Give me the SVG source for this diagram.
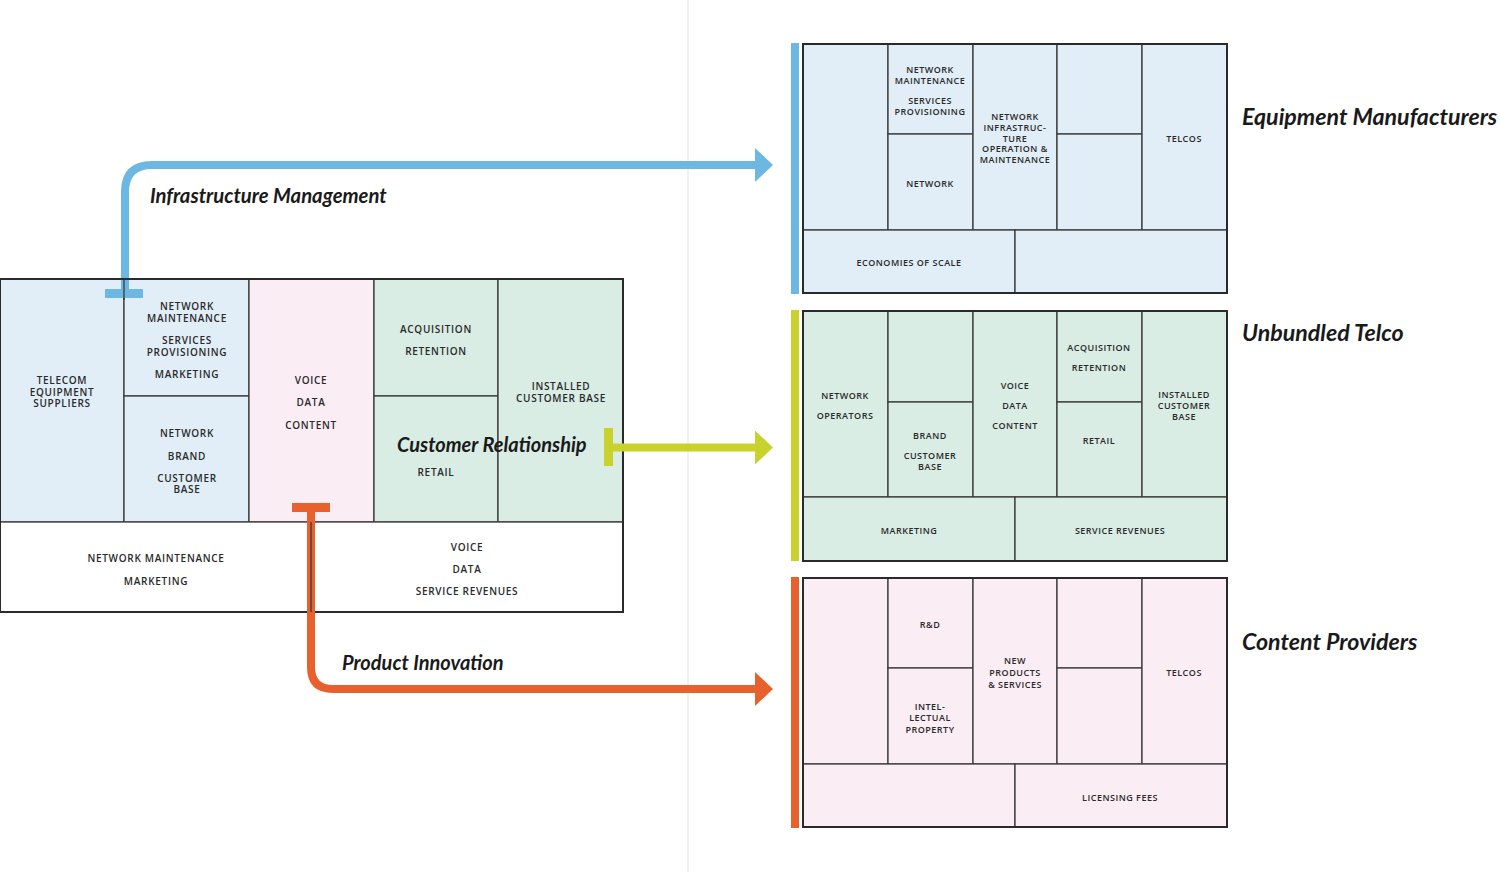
<svg xmlns="http://www.w3.org/2000/svg" width="1500" height="872" viewBox="0 0 1500 872">
<defs>
<style>
.bg{fill:#ffffff}
.blue{fill:#e1eef7}
.green{fill:#d9ede5}
.pink{fill:#fbedf4}
.white{fill:#ffffff}
.cell{stroke:#3a3a3a;stroke-width:1.3}
.frame{fill:none;stroke:#2a2a2a;stroke-width:2}
.t{font-family:"Open Sans","Liberation Sans",sans-serif;font-size:10px;font-weight:600;letter-spacing:0.7px;fill:#2a2a2a;text-anchor:middle}
.s{font-family:"Open Sans","Liberation Sans",sans-serif;font-size:9px;font-weight:600;letter-spacing:0.5px;fill:#2a2a2a;text-anchor:middle}
.h{font-family:Lato,"Liberation Sans",sans-serif;font-weight:700;font-style:italic;fill:#1a1a1a}
.cb{stroke:#6cb8e3}
.cg{stroke:#c9d22d}
.co{stroke:#e8612d}
.conn{fill:none;stroke-width:8}
</style>
<marker id="ab" markerUnits="userSpaceOnUse" markerWidth="20" markerHeight="36" refX="2" refY="17" orient="auto"><path d="M0,0 L18,17 L0,34 z" fill="#6cb8e3"/></marker>
<marker id="ag" markerUnits="userSpaceOnUse" markerWidth="20" markerHeight="36" refX="2" refY="17" orient="auto"><path d="M0,0 L18,17 L0,34 z" fill="#c9d22d"/></marker>
<marker id="ao" markerUnits="userSpaceOnUse" markerWidth="20" markerHeight="36" refX="2" refY="17" orient="auto"><path d="M0,0 L18,17 L0,34 z" fill="#e8612d"/></marker>
</defs>
<rect class="bg" x="0" y="0" width="1500" height="872"/>
<line x1="688" y1="0" x2="688" y2="872" stroke="#f1f1f1" stroke-width="2"/>

<g id="left-canvas">
  <rect class="blue cell" x="0" y="279" width="124" height="243"/>
  <rect class="blue cell" x="124" y="279" width="125" height="117"/>
  <rect class="blue cell" x="124" y="396" width="125" height="126"/>
  <rect class="pink cell" x="249" y="279" width="125" height="243"/>
  <rect class="green cell" x="374" y="279" width="124" height="117"/>
  <rect class="green cell" x="374" y="396" width="124" height="126"/>
  <rect class="green cell" x="498" y="279" width="125" height="243"/>
  <rect class="white cell" x="0" y="522" width="311" height="90"/>
  <rect class="white cell" x="311" y="522" width="312" height="90"/>
  <rect class="frame" x="0" y="279" width="623" height="333"/>
  <text class="t" x="62" y="384">TELECOM</text>
  <text class="t" x="62" y="396">EQUIPMENT</text>
  <text class="t" x="62" y="407">SUPPLIERS</text>
  <text class="t" x="187" y="310">NETWORK</text>
  <text class="t" x="187" y="322">MAINTENANCE</text>
  <text class="t" x="187" y="344">SERVICES</text>
  <text class="t" x="187" y="356">PROVISIONING</text>
  <text class="t" x="187" y="378">MARKETING</text>
  <text class="t" x="187" y="437">NETWORK</text>
  <text class="t" x="187" y="460">BRAND</text>
  <text class="t" x="187" y="482">CUSTOMER</text>
  <text class="t" x="187" y="493">BASE</text>
  <text class="t" x="311" y="384">VOICE</text>
  <text class="t" x="311" y="406">DATA</text>
  <text class="t" x="311" y="429">CONTENT</text>
  <text class="t" x="436" y="333">ACQUISITION</text>
  <text class="t" x="436" y="355">RETENTION</text>
  <text class="t" x="436" y="476">RETAIL</text>
  <text class="t" x="561" y="390">INSTALLED</text>
  <text class="t" x="561" y="402">CUSTOMER BASE</text>
  <text class="t" x="156" y="562">NETWORK MAINTENANCE</text>
  <text class="t" x="156" y="585">MARKETING</text>
  <text class="t" x="467" y="551">VOICE</text>
  <text class="t" x="467" y="573">DATA</text>
  <text class="t" x="467" y="595">SERVICE REVENUES</text>
</g>

<g id="connectors">
  <path class="conn cb" d="M125,293 V192 Q125,165 152,165 H757" marker-end="url(#ab)"/>
  <rect x="105" y="289" width="38" height="9" fill="#6cb8e3"/>
  <path class="conn cg" d="M608,447.5 H757" marker-end="url(#ag)"/>
  <rect x="604" y="428" width="9" height="38" fill="#c9d22d"/>
  <path class="conn co" d="M311,507 V667 Q311,689 333,689 H757" marker-end="url(#ao)"/>
  <rect x="292" y="503" width="38" height="9" fill="#e8612d"/>
  <line x1="124" y1="279" x2="124" y2="300" stroke="#3a3a3a" stroke-width="1.3"/>
  <line x1="311" y1="522" x2="311" y2="612" stroke="#3a3a3a" stroke-width="1.3"/>
  <line x1="0" y1="279" x2="150" y2="279" stroke="#2a2a2a" stroke-width="2"/>
</g>

<g id="labels">
  <text class="h" x="150" y="203" font-size="20.3">Infrastructure Management</text>
  <text class="h" x="397" y="452" font-size="20">Customer Relationship</text>
  <text class="h" x="342" y="670" font-size="20">Product Innovation</text>
</g>

<g id="equipment-manufacturers">
  <rect x="791" y="43" width="8" height="251" fill="#6cb8e3"/>
  <rect class="blue cell" x="803" y="44" width="85" height="186"/>
  <rect class="blue cell" x="888" y="44" width="85" height="90"/>
  <rect class="blue cell" x="888" y="134" width="85" height="96"/>
  <rect class="blue cell" x="973" y="44" width="84" height="186"/>
  <rect class="blue cell" x="1057" y="44" width="85" height="90"/>
  <rect class="blue cell" x="1057" y="134" width="85" height="96"/>
  <rect class="blue cell" x="1142" y="44" width="85" height="186"/>
  <rect class="blue cell" x="803" y="230" width="212" height="63"/>
  <rect class="blue cell" x="1015" y="230" width="212" height="63"/>
  <rect class="frame" x="803" y="44" width="424" height="249"/>
  <text class="s" x="930" y="73">NETWORK</text>
  <text class="s" x="930" y="84">MAINTENANCE</text>
  <text class="s" x="930" y="104">SERVICES</text>
  <text class="s" x="930" y="115">PROVISIONING</text>
  <text class="s" x="930" y="187">NETWORK</text>
  <text class="s" x="1015" y="120">NETWORK</text>
  <text class="s" x="1015" y="131">INFRASTRUC-</text>
  <text class="s" x="1015" y="142">TURE</text>
  <text class="s" x="1015" y="152">OPERATION &amp;</text>
  <text class="s" x="1015" y="163">MAINTENANCE</text>
  <text class="s" x="1184" y="142">TELCOS</text>
  <text class="s" x="909" y="266">ECONOMIES OF SCALE</text>
  <text class="h" x="1242" y="125" font-size="23.2">Equipment Manufacturers</text>
</g>

<g id="unbundled-telco">
  <rect x="791" y="310" width="8" height="251" fill="#c9d22d"/>
  <rect class="green cell" x="803" y="311" width="85" height="186"/>
  <rect class="green cell" x="888" y="311" width="85" height="91"/>
  <rect class="green cell" x="888" y="402" width="85" height="95"/>
  <rect class="green cell" x="973" y="311" width="84" height="186"/>
  <rect class="green cell" x="1057" y="311" width="85" height="91"/>
  <rect class="green cell" x="1057" y="402" width="85" height="95"/>
  <rect class="green cell" x="1142" y="311" width="85" height="186"/>
  <rect class="green cell" x="803" y="497" width="212" height="64"/>
  <rect class="green cell" x="1015" y="497" width="212" height="64"/>
  <rect class="frame" x="803" y="311" width="424" height="250"/>
  <text class="s" x="845" y="399">NETWORK</text>
  <text class="s" x="845" y="419">OPERATORS</text>
  <text class="s" x="930" y="439">BRAND</text>
  <text class="s" x="930" y="459">CUSTOMER</text>
  <text class="s" x="930" y="470">BASE</text>
  <text class="s" x="1015" y="389">VOICE</text>
  <text class="s" x="1015" y="409">DATA</text>
  <text class="s" x="1015" y="429">CONTENT</text>
  <text class="s" x="1099" y="351">ACQUISITION</text>
  <text class="s" x="1099" y="371">RETENTION</text>
  <text class="s" x="1099" y="444">RETAIL</text>
  <text class="s" x="1184" y="398">INSTALLED</text>
  <text class="s" x="1184" y="409">CUSTOMER</text>
  <text class="s" x="1184" y="420">BASE</text>
  <text class="s" x="909" y="534">MARKETING</text>
  <text class="s" x="1120" y="534">SERVICE REVENUES</text>
  <text class="h" x="1242" y="341" font-size="23.2">Unbundled Telco</text>
</g>

<g id="content-providers">
  <rect x="791" y="577" width="8" height="251" fill="#e8612d"/>
  <rect class="pink cell" x="803" y="578" width="85" height="186"/>
  <rect class="pink cell" x="888" y="578" width="85" height="90"/>
  <rect class="pink cell" x="888" y="668" width="85" height="96"/>
  <rect class="pink cell" x="973" y="578" width="84" height="186"/>
  <rect class="pink cell" x="1057" y="578" width="85" height="90"/>
  <rect class="pink cell" x="1057" y="668" width="85" height="96"/>
  <rect class="pink cell" x="1142" y="578" width="85" height="186"/>
  <rect class="pink cell" x="803" y="764" width="212" height="63"/>
  <rect class="pink cell" x="1015" y="764" width="212" height="63"/>
  <rect class="frame" x="803" y="578" width="424" height="249"/>
  <text class="s" x="930" y="628">R&amp;D</text>
  <text class="s" x="930" y="710">INTEL-</text>
  <text class="s" x="930" y="721">LECTUAL</text>
  <text class="s" x="930" y="733">PROPERTY</text>
  <text class="s" x="1015" y="664">NEW</text>
  <text class="s" x="1015" y="676">PRODUCTS</text>
  <text class="s" x="1015" y="688">&amp; SERVICES</text>
  <text class="s" x="1184" y="676">TELCOS</text>
  <text class="s" x="1120" y="801">LICENSING FEES</text>
  <text class="h" x="1242" y="650" font-size="23.2">Content Providers</text>
</g>
</svg>
